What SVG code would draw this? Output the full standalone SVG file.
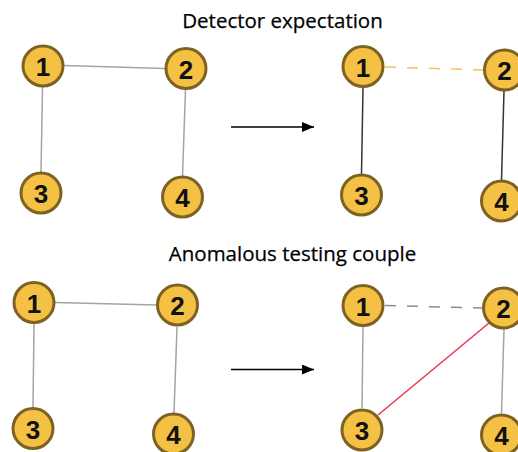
<svg xmlns="http://www.w3.org/2000/svg" width="518" height="452" viewBox="0 0 518 452">
  <defs>
    <style>
      .title { font-family: "Open Sans", "Liberation Sans", sans-serif; font-size: 20.5px; fill: #000; stroke: #000; stroke-width: 0.25; text-anchor: middle; }
      .node circle { fill: #F4C144; stroke: #7E6224; stroke-width: 3; }
      .node text { font-family: "Liberation Sans", Arial, sans-serif; font-weight: bold; font-size: 26px; fill: #111; text-anchor: middle; dominant-baseline: central; }
      .edge { fill: none; stroke-width: 1.5; }
      .gray { stroke: #A3A3A3; }
      .dark { stroke: #333333; }
      .dash-orange { stroke: #F6C35A; stroke-dasharray: 11 11; }
      .dash-gray { stroke: #8C8C8C; stroke-dasharray: 11 11; }
      .red { stroke: #E8354F; }
      .arrow { stroke: #000; stroke-width: 1.5; fill: none; }
    </style>
    <marker id="head" markerWidth="12" markerHeight="10" refX="12" refY="5" orient="auto" markerUnits="userSpaceOnUse">
      <path d="M0,0 L12,5 L0,10 Z" fill="#000"/>
    </marker>
  </defs>

  <rect width="518" height="452" fill="#ffffff"/>

  <text class="title" x="282.5" y="28">Detector expectation</text>
  <text class="title" x="292.5" y="261">Anomalous testing couple</text>

  <!-- connectors -->
  <g id="connectors">
    <!-- upper left graph -->
    <line class="edge gray" x1="64" y1="65.5" x2="165" y2="68.5"/>
    <line class="edge gray" x1="42.5" y1="87" x2="41" y2="172"/>
    <line class="edge gray" x1="185.5" y1="90" x2="182.5" y2="176"/>
    <!-- upper right graph -->
    <line class="edge dash-orange" x1="385" y1="67" x2="483" y2="70"/>
    <line class="edge dark" x1="363" y1="88" x2="361.5" y2="174"/>
    <line class="edge dark" x1="504" y1="91" x2="501.5" y2="180"/>
    <!-- lower left graph -->
    <line class="edge gray" x1="55" y1="302.5" x2="156.5" y2="305"/>
    <line class="edge gray" x1="34" y1="324" x2="33" y2="407"/>
    <line class="edge gray" x1="177" y1="327" x2="174" y2="413"/>
    <!-- lower right graph -->
    <line class="edge dash-gray" x1="385" y1="305.5" x2="482" y2="308"/>
    <line class="edge gray" x1="363" y1="327" x2="362" y2="408"/>
    <line class="edge gray" x1="504" y1="329" x2="501.5" y2="413"/>
    <line class="edge red" x1="378" y1="415" x2="489" y2="323"/>
    <!-- transition arrows -->
    <line class="arrow" x1="231" y1="127" x2="314" y2="127" marker-end="url(#head)"/>
    <line class="arrow" x1="231" y1="369.5" x2="314" y2="369.5" marker-end="url(#head)"/>
  </g>

  <!-- upper left graph nodes -->
  <g id="a1" class="node"><circle cx="43" cy="66" r="20"/><text x="43" y="67">1</text></g>
  <g id="a2" class="node"><circle cx="186" cy="68.5" r="20"/><text x="186" y="69.5">2</text></g>
  <g id="a3" class="node"><circle cx="41" cy="193" r="20"/><text x="41" y="194">3</text></g>
  <g id="a4" class="node"><circle cx="182.5" cy="197" r="20"/><text x="182.5" y="198">4</text></g>

  <!-- upper right graph nodes -->
  <g id="b1" class="node"><circle cx="363" cy="66.5" r="20"/><text x="363" y="67.5">1</text></g>
  <g id="b2" class="node"><circle cx="504.5" cy="70" r="20"/><text x="504.5" y="71">2</text></g>
  <g id="b3" class="node"><circle cx="361.5" cy="195" r="20"/><text x="361.5" y="196">3</text></g>
  <g id="b4" class="node"><circle cx="501.5" cy="201" r="20"/><text x="501.5" y="202">4</text></g>

  <!-- lower left graph nodes -->
  <g id="c1" class="node"><circle cx="34" cy="302.5" r="20"/><text x="34" y="303.5">1</text></g>
  <g id="c2" class="node"><circle cx="177.5" cy="305" r="20"/><text x="177.5" y="306">2</text></g>
  <g id="c3" class="node"><circle cx="33" cy="428.5" r="20"/><text x="33" y="429.5">3</text></g>
  <g id="c4" class="node"><circle cx="173.5" cy="434" r="20"/><text x="173.5" y="435">4</text></g>

  <!-- lower right graph nodes -->
  <g id="d1" class="node"><circle cx="363" cy="305.5" r="20"/><text x="363" y="306.5">1</text></g>
  <g id="d2" class="node"><circle cx="503.5" cy="308" r="20"/><text x="503.5" y="309">2</text></g>
  <g id="d3" class="node"><circle cx="362" cy="430" r="20"/><text x="362" y="431">3</text></g>
  <g id="d4" class="node"><circle cx="501.5" cy="435" r="20"/><text x="501.5" y="436">4</text></g>
</svg>
